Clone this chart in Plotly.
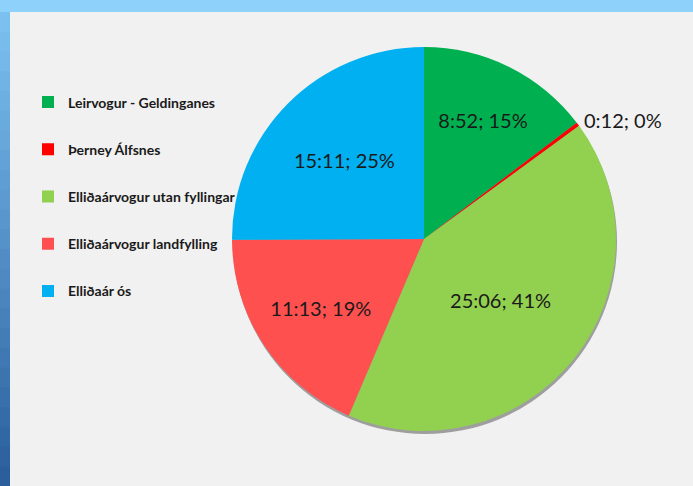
import plotly.graph_objects as go

# ---- data ----
labels = ["Leirvogur - Geldinganes", "Þerney Álfsnes", "Elliðaárvogur utan fyllingar",
          "Elliðaárvogur landfylling", "Elliðaár ós"]
durations = ["8:52", "0:12", "25:06", "11:13", "15:11"]
seconds = [532, 12, 1506, 673, 911]
colors = ["#00B050", "#FF0000", "#92D050", "#FF5050", "#00B0F0"]
text_positions = ["inside", "outside", "inside", "inside", "inside"]

W, H = 693, 486
cx, cy, r = 424, 239, 192

fig = go.Figure()
fig.add_trace(go.Pie(
    labels=labels,
    values=seconds,
    customdata=durations,
    texttemplate="%{customdata}; %{percent:.0%}",
    textposition=text_positions,
    insidetextorientation="horizontal",
    textfont=dict(family="Lato, Open Sans, sans-serif", size=20, color="#1a1a1a"),
    marker=dict(colors=colors, line=dict(width=0)),
    sort=False,
    direction="clockwise",
    rotation=0,
    domain=dict(x=[(cx - r) / W, (cx + r) / W], y=[1 - (cy + r) / H, 1 - (cy - r) / H]),
    hoverinfo="label+value+percent",
))
# empty helper trace (draws nothing) so that legend groups are kept apart and spaced
fig.add_trace(go.Scatter(x=[None], y=[None], mode="markers", name=" ",
                         legendgroup="spacer", showlegend=True,
                         marker=dict(size=1, color="rgba(0,0,0,0)", line=dict(width=0)),
                         hoverinfo="skip"))

shapes = []
# background decoration: top band and left gradient band
shapes.append(dict(type="rect", xref="paper", yref="paper", x0=0, x1=1, y0=1 - 12 / H, y1=1,
                   fillcolor="#8ED2FB", line=dict(width=0), layer="below"))
n = 24
c0 = (124, 192, 240)
c1 = (42, 95, 156)
for i in range(n):
    t = i / (n - 1)
    col = "rgb(%d,%d,%d)" % tuple(round(a + (b - a) * t) for a, b in zip(c0, c1))
    shapes.append(dict(type="rect", xref="paper", yref="paper", x0=0, x1=10 / W,
                       y0=1 - (12 + (i + 1) * (H - 12) / n) / H - 0.002,
                       y1=1 - (12 + i * (H - 12) / n) / H,
                       fillcolor=col, line=dict(width=0), layer="below"))
# subtle shadow under the pie
shapes.append(dict(type="circle", xref="paper", yref="paper",
                   x0=(cx - r + 1) / W, x1=(cx + r + 1) / W,
                   y0=1 - (cy + r + 3) / H, y1=1 - (cy - r + 3) / H,
                   fillcolor="rgba(90,90,90,0.55)", line=dict(width=0), layer="below"))

fig.update_layout(
    width=W, height=H,
    margin=dict(l=0, r=0, t=0, b=0),
    paper_bgcolor="#F1F1F1",
    plot_bgcolor="#F1F1F1",
    shapes=shapes,
    showlegend=True,
    xaxis=dict(visible=False),
    yaxis=dict(visible=False),
    legend=dict(
        x=28 / W, y=1 - 86.5 / H, xanchor="left", yanchor="top",
        traceorder="grouped", tracegroupgap=26,
        font=dict(family="Lato, Open Sans, sans-serif", size=14, color="#1a1a1a", weight="bold"),
        bgcolor="rgba(0,0,0,0)", itemclick=False,
    ),
)

fig.write_html("out.html", config={"displayModeBar": False},
               post_script="document.body.style.margin='0';document.body.style.overflow='hidden';")
